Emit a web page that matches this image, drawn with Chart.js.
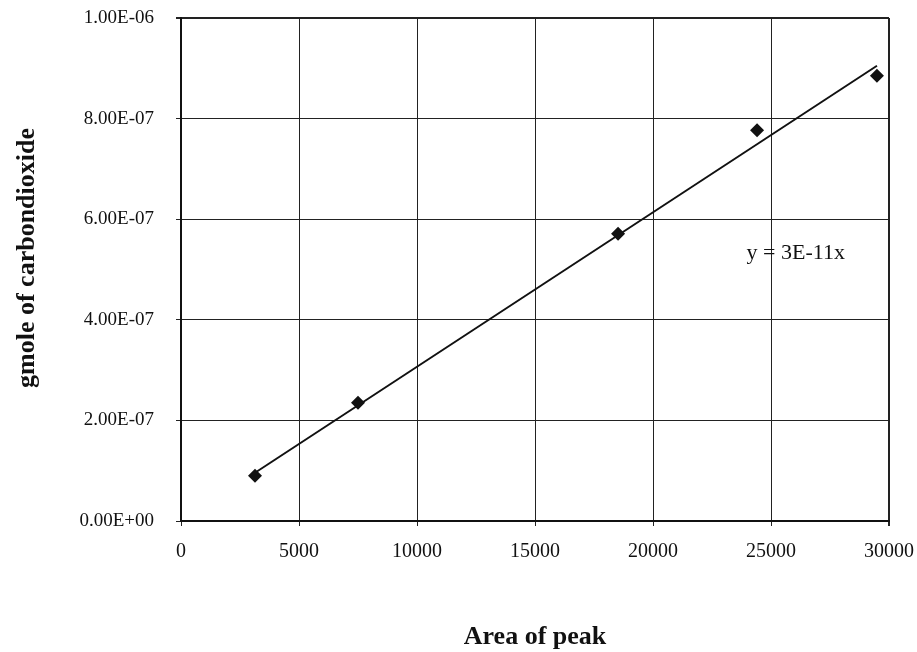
<!DOCTYPE html>
<html>
<head>
<meta charset="utf-8">
<script src="https://cdn.jsdelivr.net/npm/chart.js@4/dist/chart.umd.min.js"></script>
<style>
  html, body { margin: 0; padding: 0; background: #fff; }
</style>
</head>
<body>
<canvas id="chart" width="917" height="652"></canvas>
<script>
// Données
const peakArea = [3136, 7500, 18520, 24410, 29490];
const gmoleCO2 = [9.0e-8, 2.35e-7, 5.71e-7, 7.77e-7, 8.85e-7];
const trendX = [3136, 29490];
const trendY = [9.6e-8, 9.05e-7];
const xTickValues = [0, 5000, 10000, 15000, 20000, 25000, 30000];
const yTickValues = [0, 2e-7, 4e-7, 6e-7, 8e-7, 1e-6];
const yTickLabels = ['0.00E+00', '2.00E-07', '4.00E-07', '6.00E-07', '8.00E-07', '1.00E-06'];
const xTitle = 'Area of peak';
const yTitle = 'gmole of carbondioxide';
const equation = 'y = 3E-11x';
const equationAt = { x: 26050, y: 5.33e-7 };

const SERIF = "'Liberation Serif', 'Times New Roman', serif";

// Texte libre : équation + titre vertical
const extraText = {
    id: 'extraText',
    afterDatasetsDraw(chart) {
        const { ctx, scales: { x, y } } = chart;
        ctx.save();
        ctx.fillStyle = '#111';
        ctx.font = `22px ${SERIF}`;
        ctx.textAlign = 'center';
        ctx.textBaseline = 'middle';
        ctx.fillText(equation, x.getPixelForValue(equationAt.x), y.getPixelForValue(equationAt.y));

        ctx.font = `bold 26px ${SERIF}`;
        ctx.translate(27, 258);
        ctx.rotate(-Math.PI / 2);
        ctx.fillText(yTitle, 0, 0);
        ctx.restore();
    }
};

new Chart(document.getElementById('chart'), {
    type: 'scatter',
    data: {
        datasets: [
            {
                label: 'Points',
                data: peakArea.map((v, i) => ({ x: v, y: gmoleCO2[i] })),
                pointStyle: 'rectRot',
                pointRadius: 7,
                backgroundColor: '#111',
                borderColor: '#111',
                borderWidth: 0
            },
            {
                label: 'Tendance',
                type: 'line',
                data: trendX.map((v, i) => ({ x: v, y: trendY[i] })),
                borderColor: '#111',
                borderWidth: 2,
                pointRadius: 0,
                fill: false
            }
        ]
    },
    options: {
        responsive: false,
        animation: false,
        layout: { padding: { top: 18, right: 28, left: 0, bottom: 0 } },
        plugins: { legend: { display: false }, tooltip: { enabled: false } },
        scales: {
            x: {
                type: 'linear',
                min: 0,
                max: 30000,
                afterBuildTicks: s => { s.ticks = xTickValues.map(v => ({ value: v })); },
                afterFit: s => { s.height = 131; s.paddingLeft = 0; s.paddingRight = 0; },
                grid: {
                    color: '#222',
                    lineWidth: c => (c.index === xTickValues.length - 1 ? 2 : 1),
                    tickLength: 5
                },
                border: { color: '#111', width: 2 },
                ticks: {
                    color: '#111',
                    padding: 14,
                    maxRotation: 0,
                    font: { family: SERIF, size: 20 },
                    callback: v => String(v)
                },
                title: {
                    display: true,
                    text: xTitle,
                    color: '#111',
                    font: { family: SERIF, size: 26, weight: 'bold' },
                    padding: { top: 0, bottom: -1 }
                }
            },
            y: {
                type: 'linear',
                min: 0,
                max: 1e-6,
                afterBuildTicks: s => { s.ticks = yTickValues.map(v => ({ value: v })); },
                afterFit: s => { s.width = 181; s.paddingTop = 0; s.paddingBottom = 0; },
                grid: {
                    color: '#222',
                    lineWidth: c => (c.index === yTickValues.length - 1 ? 2 : 1),
                    tickLength: 5
                },
                border: { color: '#111', width: 2 },
                ticks: {
                    color: '#111',
                    padding: 22,
                    font: { family: SERIF, size: 19 },
                    callback: (v, i) => yTickLabels[i]
                }
            }
        }
    },
    plugins: [extraText]
});
</script>
</body>
</html>
